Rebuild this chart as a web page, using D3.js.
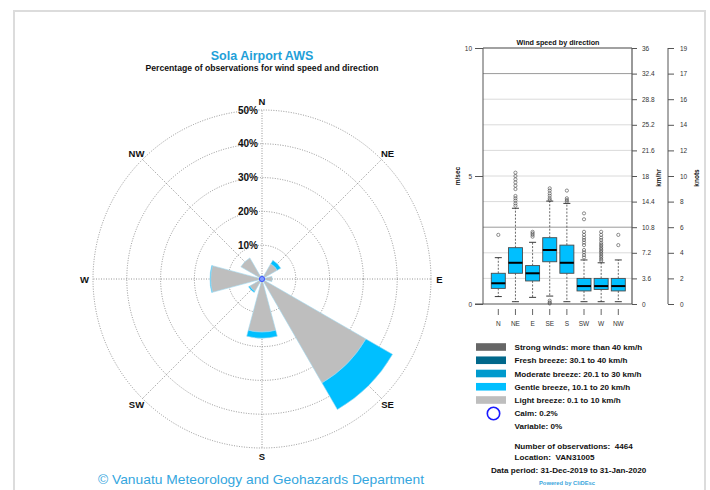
<!DOCTYPE html>
<html>
<head>
<meta charset="utf-8">
<script src="https://cdn.jsdelivr.net/npm/d3@7"></script>
<style>
  html, body { margin: 0; padding: 0; background: #fff; }
  svg { display: block; font-family: "Liberation Sans", Arial, Helvetica, sans-serif; }
</style>
</head>
<body>
<svg id="chart" width="710" height="490"></svg>
<script>
// ---- Wind rose data (percent of observations) ----
const directions = ["N", "NE", "E", "SE", "S", "SW", "W", "NW"];
const lightBreeze    = [1.1, 5.2, 3.0, 35.5, 15.7, 4.2, 15.2, 7.2];
const gentleBreeze   = [0.0, 1.2, 0.0, 9.1, 1.8, 0.4, 0.2, 0.0];
const moderateBreeze = [0, 0, 0, 0, 0, 0, 0, 0];
const freshBreeze    = [0, 0, 0, 0, 0, 0, 0, 0];
const strongWinds    = [0, 0, 0, 0, 0, 0, 0, 0];
const ringTicks = [10, 20, 30, 40, 50];
const calmPct = 0.2;

// ---- Wind speed by direction (m/sec) ----
const whiskerLow  = [0.29, 0.09, 0.26, 0.31, 0.09, 0.09, 0.09, 0.09];
const quartile1   = [0.61, 1.20, 0.90, 1.65, 1.20, 0.51, 0.57, 0.51];
const medians     = [0.81, 1.61, 1.20, 2.11, 1.61, 0.70, 0.70, 0.70];
const quartile3   = [1.20, 2.20, 1.50, 2.59, 2.30, 1.00, 1.00, 1.00];
const whiskerHigh = [1.81, 3.74, 2.41, 4.02, 3.93, 1.72, 1.61, 1.72];
const outliers = [
  [2.7],
  [3.84, 3.93, 4.04, 4.13, 4.22, 4.49, 4.62, 4.75, 4.87, 5.0, 5.13],
  [2.63, 2.7, 2.76, 2.82],
  [0.02, 0.06, 0.13, 4.06, 4.13, 4.23, 4.32, 4.43, 4.52],
  [4.0, 4.06, 4.13, 4.43],
  [1.82, 1.91, 2.02, 2.11, 2.3, 2.4, 2.5, 2.59, 2.7, 2.82, 3.31, 3.54],
  [1.69, 1.75, 1.82, 1.88, 1.95, 2.02, 2.08, 2.14, 2.2, 2.27, 2.33, 2.4, 2.5, 2.59, 2.7, 2.82],
  [2.3, 2.7]
];
const msTicks = [0, 5, 10];
const kmhTicks = ["0", "3.6", "7.2", "10.8", "14.4", "18", "21.6", "25.2", "28.8", "32.4", "36"];
const knotTicks = ["0", "2", "4", "6", "8", "10", "12", "14", "16", "17", "19"];

// ---- Legend ----
const legendLabels = [
  "Strong winds: more than 40 km/h",
  "Fresh breeze: 30.1 to 40 km/h",
  "Moderate breeze: 20.1 to 30 km/h",
  "Gentle breeze, 10.1 to 20 km/h",
  "Light breeze: 0.1 to 10 km/h"
];
const legendColors = ["#666666", "#00688b", "#009acd", "#00bfff", "#bebebe"];

const svg = d3.select("#chart");

// Page frame
svg.append("rect").attr("x", 14).attr("y", 11).attr("width", 691).attr("height", 500)
  .attr("fill", "none").attr("stroke", "#dcdcdc").attr("stroke-width", 2);

// ================= Wind rose =================
const cx = 262, cy = 279;
const r = d3.scaleLinear().domain([0, 50]).range([0, 169]);
const rose = svg.append("g").attr("transform", `translate(${cx},${cy})`);
const toRad = d => d * Math.PI / 180;
const dirAngle = d3.scalePoint().domain(directions).range([0, 315]);

// rings
rose.selectAll("circle.ring").data(ringTicks).join("circle")
  .attr("class", "ring").attr("r", d => r(d))
  .attr("fill", "none").attr("stroke", "#7a7a7a").attr("stroke-width", 0.8)
  .attr("stroke-dasharray", "1,1.5");
// spokes
rose.selectAll("line.spoke").data(directions).join("line")
  .attr("class", "spoke")
  .attr("x1", 0).attr("y1", 0)
  .attr("x2", d => r(50) * Math.sin(toRad(dirAngle(d))))
  .attr("y2", d => -r(50) * Math.cos(toRad(dirAngle(d))))
  .attr("stroke", "#7a7a7a").attr("stroke-width", 0.8).attr("stroke-dasharray", "1,1.5");

// stacked petals
const classes = [lightBreeze, gentleBreeze, moderateBreeze, freshBreeze, strongWinds];
const petalColors = ["#bebebe", "#00bfff", "#009acd", "#00688b", "#666666"];
const petals = [];
directions.forEach((d, i) => {
  let base = 0;
  classes.forEach((cls, k) => {
    const v = cls[i];
    if (v > 0) petals.push({ dir: d, from: base, to: base + v, color: petalColors[k] });
    base += v;
  });
});
const arc = d3.arc()
  .innerRadius(d => r(d.from)).outerRadius(d => r(d.to))
  .startAngle(d => toRad(dirAngle(d.dir) - 15))
  .endAngle(d => toRad(dirAngle(d.dir) + 15));
rose.selectAll("path.petal").data(petals).join("path")
  .attr("class", "petal").attr("d", arc)
  .attr("fill", d => d.color).attr("stroke", "#9fd8f0").attr("stroke-width", 0.6);

// calm marker at the centre
rose.append("circle").attr("r", 2.6)
  .attr("fill", "#7f9cff").attr("stroke", "#2a3cff").attr("stroke-width", 0.8);

// ring labels
rose.selectAll("text.ringlab").data(ringTicks).join("text")
  .attr("class", "ringlab")
  .attr("x", -4).attr("y", d => -r(d) + 3.5)
  .attr("text-anchor", "end").attr("font-size", 10).attr("font-weight", "bold")
  .attr("fill", "#111").text(d => d + "%");

// direction labels
rose.selectAll("text.dirlab").data(directions).join("text")
  .attr("class", "dirlab")
  .attr("x", d => 177.5 * Math.sin(toRad(dirAngle(d))))
  .attr("y", d => -177.5 * Math.cos(toRad(dirAngle(d))) + 3.5)
  .attr("text-anchor", "middle").attr("font-size", 9.5).attr("font-weight", "bold")
  .attr("fill", "#111").text(d => d);

// titles
svg.append("text").attr("x", 262).attr("y", 60).attr("text-anchor", "middle")
  .attr("font-size", 12.5).attr("font-weight", "bold").attr("fill", "#1fa0d8")
  .text("Sola Airport AWS");
svg.append("text").attr("x", 262).attr("y", 71).attr("text-anchor", "middle")
  .attr("font-size", 8.6).attr("font-weight", "bold").attr("fill", "#111")
  .attr("textLength", 233).attr("lengthAdjust", "spacingAndGlyphs")
  .text("Percentage of observations for wind speed and direction");

// footer
svg.append("text").attr("x", 261).attr("y", 484).attr("text-anchor", "middle")
  .attr("font-size", 13.5).attr("fill", "#35a6de")
  .attr("textLength", 326).attr("lengthAdjust", "spacingAndGlyphs")
  .text("\u00A9 Vanuatu Meteorology and Geohazards Department");

// ================= Box plot =================
const plotLeft = 483, plotRight = 632, plotTop = 48, plotBottom = 304;
const y = d3.scaleLinear().domain([0, 10]).range([plotBottom, plotTop]);
const x = d3.scalePoint().domain(directions).range([498.3, 618.3]);
const bp = svg.append("g");

// horizontal grid (every 1 m/sec = 3.6 km/h)
const gridVals = d3.range(1, 10);
bp.selectAll("line.grid").data(gridVals).join("line")
  .attr("class", "grid")
  .attr("x1", plotLeft).attr("x2", plotRight)
  .attr("y1", d => y(d)).attr("y2", d => y(d))
  .attr("stroke", d => (d === 3 || d === 9) ? "#9a9a9a" : "#dadada").attr("stroke-width", 1);

// frame lines
bp.append("line").attr("x1", plotLeft).attr("x2", plotRight).attr("y1", plotTop).attr("y2", plotTop)
  .attr("stroke", "#444").attr("stroke-width", 1.2);
bp.append("line").attr("x1", plotLeft).attr("x2", plotLeft).attr("y1", plotTop).attr("y2", plotBottom)
  .attr("stroke", "#555").attr("stroke-width", 1);
bp.append("line").attr("x1", plotRight).attr("x2", plotRight).attr("y1", plotTop).attr("y2", plotBottom)
  .attr("stroke", "#555").attr("stroke-width", 1.2);
bp.append("line").attr("x1", 475).attr("x2", plotRight).attr("y1", plotBottom).attr("y2", plotBottom)
  .attr("stroke", "#555").attr("stroke-width", 1);

const axisFont = g => g.selectAll("text").attr("font-size", 6.5).attr("fill", "#333")
  .attr("font-family", "Liberation Sans, Arial, sans-serif");

// left axis (m/sec)
const gL = bp.append("g").attr("transform", `translate(${plotLeft},0)`)
  .call(d3.axisLeft(y).tickValues(msTicks).tickSize(8).tickPadding(3));
gL.select(".domain").remove();
gL.selectAll("line").attr("stroke", "#555");
axisFont(gL);

// right axis (km/h)
const kmhScale = d3.scaleLinear().domain([0, 36]).range([plotBottom, plotTop]);
const gK = bp.append("g").attr("transform", `translate(${plotRight},0)`)
  .call(d3.axisRight(kmhScale).tickValues(kmhTicks.map(Number)).tickSize(5).tickPadding(5)
    .tickFormat((d, i) => kmhTicks[i]));
gK.select(".domain").remove();
gK.selectAll("line").attr("stroke", "#555");
axisFont(gK);

// knots axis, ticks aligned to km/h ticks
const gN = bp.append("g").attr("transform", "translate(668,0)")
  .call(d3.axisRight(kmhScale).tickValues(kmhTicks.map(Number)).tickSize(6).tickPadding(6)
    .tickFormat((d, i) => knotTicks[i]));
gN.select(".domain").attr("stroke", "#555").attr("d", `M0,${plotTop}V${plotBottom}`);
gN.selectAll("line").attr("stroke", "#555");
axisFont(gN);

// axis titles
const rotLabel = (tx, ty, t) => bp.append("text")
  .attr("transform", `translate(${tx},${ty}) rotate(-90)`)
  .attr("text-anchor", "middle").attr("font-size", 6.5).attr("font-weight", "bold")
  .attr("fill", "#111").text(t);
rotLabel(460, 176, "m/sec");
rotLabel(661, 178, "km/hr");
rotLabel(699, 178, "knots");

bp.append("text").attr("x", 558).attr("y", 45).attr("text-anchor", "middle")
  .attr("font-size", 7.2).attr("font-weight", "bold").attr("fill", "#111")
  .text("Wind speed by direction");

// boxes
const boxW = 14;
const boxes = directions.map((d, i) => ({
  dir: d, lo: whiskerLow[i], q1: quartile1[i], med: medians[i],
  q3: quartile3[i], hi: whiskerHigh[i], out: outliers[i]
}));
const bx = bp.selectAll("g.box").data(boxes).join("g").attr("class", "box");
// whiskers (dashed)
bx.append("line").attr("x1", d => x(d.dir)).attr("x2", d => x(d.dir))
  .attr("y1", d => y(d.q3)).attr("y2", d => y(d.hi))
  .attr("stroke", "#444").attr("stroke-width", 0.8).attr("stroke-dasharray", "2,1.5");
bx.append("line").attr("x1", d => x(d.dir)).attr("x2", d => x(d.dir))
  .attr("y1", d => y(d.q1)).attr("y2", d => y(d.lo))
  .attr("stroke", "#444").attr("stroke-width", 0.8).attr("stroke-dasharray", "2,1.5");
// caps
bx.append("line").attr("x1", d => x(d.dir) - 3.5).attr("x2", d => x(d.dir) + 3.5)
  .attr("y1", d => y(d.hi)).attr("y2", d => y(d.hi)).attr("stroke", "#222").attr("stroke-width", 0.9);
bx.append("line").attr("x1", d => x(d.dir) - 3.5).attr("x2", d => x(d.dir) + 3.5)
  .attr("y1", d => y(d.lo)).attr("y2", d => y(d.lo)).attr("stroke", "#222").attr("stroke-width", 0.9);
// box body
bx.append("rect").attr("x", d => x(d.dir) - boxW / 2).attr("width", boxW)
  .attr("y", d => y(d.q3)).attr("height", d => y(d.q1) - y(d.q3))
  .attr("fill", "#00bfff").attr("stroke", "#4a4a4a").attr("stroke-width", 0.9);
// median
bx.append("line").attr("x1", d => x(d.dir) - boxW / 2).attr("x2", d => x(d.dir) + boxW / 2)
  .attr("y1", d => y(d.med)).attr("y2", d => y(d.med)).attr("stroke", "#000").attr("stroke-width", 2);
// outliers
bx.selectAll("circle").data(d => d.out.map(v => ({ dir: d.dir, v }))).join("circle")
  .attr("cx", d => x(d.dir)).attr("cy", d => y(d.v)).attr("r", 1.6)
  .attr("fill", "none").attr("stroke", "#444").attr("stroke-width", 0.6);

// category ticks and labels
bp.selectAll("line.ctick").data(directions).join("line").attr("class", "ctick")
  .attr("x1", d => x(d)).attr("x2", d => x(d)).attr("y1", 309).attr("y2", 315)
  .attr("stroke", "#555").attr("stroke-width", 0.9);
bp.selectAll("text.clab").data(directions).join("text").attr("class", "clab")
  .attr("x", d => x(d)).attr("y", 325.5).attr("text-anchor", "middle")
  .attr("font-size", 6.5).attr("fill", "#333").text(d => d);

// ================= Legend =================
const lg = svg.append("g");
const legY = d3.scalePoint().domain(legendLabels).range([347, 400]);
lg.selectAll("rect").data(legendLabels).join("rect")
  .attr("x", 476).attr("y", d => legY(d) - 3.8).attr("width", 30).attr("height", 7.6)
  .attr("fill", (d, i) => legendColors[i]);
lg.selectAll("text").data(legendLabels).join("text")
  .attr("x", 514.5).attr("y", d => legY(d) + 3).attr("font-size", 8.1).attr("font-weight", "bold")
  .attr("fill", "#111").text(d => d);

svg.append("circle").attr("cx", 493.5).attr("cy", 413.5).attr("r", 6.2)
  .attr("fill", "none").attr("stroke", "#1a1aff").attr("stroke-width", 1.6);
const info = [
  { t: `Calm: ${calmPct}%`, x: 514.5, y: 416 },
  { t: "Variable: 0%", x: 514.5, y: 429 },
  { t: "Number of observations:  4464", x: 514.5, y: 449 },
  { t: "Location:  VAN31005", x: 514.5, y: 459.5 },
  { t: "Data period: 31-Dec-2019 to 31-Jan-2020", x: 491, y: 473 }
];
svg.selectAll("text.info").data(info).join("text").attr("class", "info")
  .attr("x", d => d.x).attr("y", d => d.y).attr("font-size", 8.1).attr("font-weight", "bold")
  .attr("fill", "#111").style("white-space", "pre").text(d => d.t);
svg.append("text").attr("x", 567).attr("y", 484.5).attr("text-anchor", "middle")
  .attr("font-size", 5.8).attr("font-weight", "bold").attr("fill", "#3aa6dc")
  .text("Powered by CliDEsc");
</script>
</body>
</html>
